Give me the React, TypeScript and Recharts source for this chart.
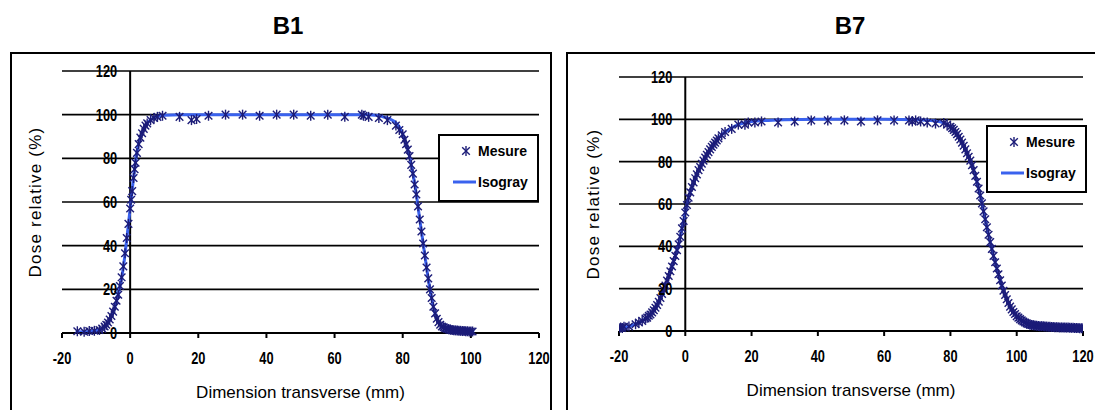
import { ComposedChart, Line, Scatter, XAxis, YAxis, CartesianGrid, ReferenceLine } from 'recharts'

type Pt = { x: number; y: number }

const xTicks = [-20, 0, 20, 40, 60, 80, 100, 120]
const yTicks = [0, 20, 40, 60, 80, 100, 120]
const seriesNames = ['Mesure', 'Isogray']
const xTitle = 'Dimension transverse (mm)'
const yTitle = 'Dose relative (%)'

// B1 - calculated profile (x mm, dose %)
const b1Isogray = [
  [-16, 0.5], [-12, 0.7], [-10, 1], [-9, 1.5], [-8, 2.3], [-7, 3.6], [-6, 6], [-5, 9.5], [-4, 14.5],
  [-3, 21], [-2, 30], [-1, 43], [0, 57], [1, 71], [2, 83], [3, 89.5], [4, 93.5], [5, 96], [6, 97.6],
  [7, 98.6], [8, 99.2], [10, 99.7], [15, 100], [30, 100], [50, 100], [70, 100], [72, 99.7], [74, 99.1],
  [76, 98.2], [78, 96.3], [79, 94.5], [80, 91], [81, 86.5], [82, 81], [83, 73], [84, 63.5], [85, 52],
  [86, 41], [87, 30], [88, 20], [89, 12], [90, 6.5], [91, 3.8], [92, 2.6], [93, 2], [95, 1.3], [97, 1],
  [101, 0.7],
]

// B1 - measured points
const b1Mesure = [
  [-15.5, 0.8], [-13.5, 0.6], [-12, 0.9], [-10.5, 1], [-9, 1.4], [-8.2, 2], [-7.5, 3], [-7, 3.8],
  [-6.5, 4.8], [-6, 6.2], [-5.5, 7.8], [-5, 9.8], [-4.5, 12], [-4, 14.8], [-3.5, 17.5], [-3, 21.5],
  [-2.5, 25.5], [-2, 30.5], [-1.5, 36.5], [-1, 43.5], [-0.5, 50], [0, 57], [0.3, 61], [0.6, 65],
  [1, 71], [1.3, 75], [1.6, 78], [2, 82.5], [2.5, 86.5], [3, 89.5], [3.5, 91.5], [4, 93.5], [4.5, 95],
  [5, 96], [6, 97.5], [7, 98.5], [8, 99], [9.5, 99.5], [14.5, 99], [18, 97.5], [19.5, 98], [23, 99.5],
  [28, 100], [33, 100], [38, 99.5], [43, 100], [48, 100], [53, 99.5], [58, 100], [63, 99], [68, 100],
  [68.5, 99.5], [70, 99], [73, 98.5], [75.5, 97.5], [78, 95], [79, 93], [80, 91], [80.5, 88.5],
  [81, 86.5], [81.5, 84], [82, 81], [82.5, 77], [83, 73], [83.5, 68], [84, 63.5], [84.5, 58], [85, 52],
  [85.5, 46.5], [86, 41], [86.5, 35.5], [87, 30], [87.5, 25], [88, 20], [88.5, 16], [89, 12], [89.5, 9],
  [90, 6.5], [90.5, 5], [91, 3.8], [91.5, 3], [92, 2.6], [92.5, 2.2], [93, 2], [93.5, 1.7], [94, 1.5],
  [94.5, 1.4], [95, 1.3], [95.5, 1.2], [96, 1.1], [96.5, 1], [97, 1], [97.5, 0.9], [98, 0.9],
  [98.5, 0.8], [99, 0.8], [99.5, 0.7], [100, 0.7], [100.5, 0.7],
]

// B7 - calculated profile
const b7Isogray = [
  [-20.5, 1.2], [-18, 1.8], [-16, 2.7], [-14, 3.9], [-12, 5.8], [-11, 7], [-10, 8.7], [-9, 11],
  [-8, 13.8], [-7, 17.5], [-6, 21.5], [-5, 26], [-4, 30.5], [-3, 35.5], [-2, 41], [-1, 48.5], [0, 56],
  [1, 63], [2, 68], [3, 72.2], [4, 76], [5, 79], [6, 82], [7, 84.5], [8, 87], [9, 89], [10, 91],
  [12, 94], [14, 96], [16, 97.5], [18, 98.4], [20, 99], [25, 99.5], [30, 99.8], [40, 100], [60, 100],
  [70, 99.8], [75, 99.3], [78, 98.3], [80, 96.5], [82, 93], [84, 87.5], [85, 84], [86, 80.5], [87, 76],
  [88, 70.5], [89, 64], [90, 56.5], [91, 49], [92, 42], [93, 35.5], [94, 29.5], [95, 24], [96, 19],
  [97, 15], [98, 11.5], [99, 9], [100, 7], [102, 4.5], [104, 3], [106, 2.5], [110, 2], [115, 1.6],
  [120, 1.3],
]

// B7 - measured points
const b7Mesure = [
  [-20, 1.3], [-19.5, 1.6], [-19, 1.4], [-18.5, 2], [-17, 2.1], [-15, 3.2], [-14, 4], [-13, 4.8],
  [-12, 5.9], [-11.5, 6.3], [-11, 7.2], [-10.5, 7.8], [-10, 8.8], [-9.5, 9.8], [-9, 11], [-8.5, 12.3],
  [-8, 13.8], [-7.5, 15.6], [-7, 17.5], [-6.5, 19.5], [-6, 21.5], [-5.5, 23.8], [-5, 26], [-4.5, 28.2],
  [-4, 30.5], [-3.5, 33], [-3, 35.5], [-2.5, 38.2], [-2, 41], [-1.5, 44.5], [-1, 48.5], [-0.5, 52],
  [0, 56], [0.5, 59.5], [1, 63], [1.5, 65.5], [2, 68], [2.5, 70.2], [3, 72.2], [3.5, 74], [4, 76],
  [4.5, 77.5], [5, 79], [5.5, 80.5], [6, 82], [6.5, 83.3], [7, 84.5], [7.5, 85.8], [8, 87], [8.5, 88],
  [9, 89], [9.5, 90], [10, 91], [11, 92.5], [12, 94], [14, 95.5], [16, 97.5], [18, 97.5], [19, 98.5],
  [21, 98.5], [23, 99], [28, 98.5], [33, 99], [38, 99.5], [43, 99.5], [48, 99.5], [53, 99], [58, 99.5],
  [63, 99.5], [67.5, 99.5], [68.5, 99], [69.5, 99.5], [71, 99], [73, 98.5], [75.5, 98], [78, 98.3],
  [79, 97.5], [80, 96.5], [80.5, 95.8], [81, 95], [81.5, 94], [82, 93], [82.5, 91.8], [83, 90.5],
  [83.5, 89], [84, 87.5], [84.5, 85.8], [85, 84], [85.5, 82.3], [86, 80.5], [86.5, 78.3], [87, 76],
  [87.5, 73.3], [88, 70.5], [88.5, 67.3], [89, 64], [89.5, 60.3], [90, 56.5], [90.5, 52.8], [91, 49],
  [91.5, 45.5], [92, 42], [92.5, 38.8], [93, 35.5], [93.5, 32.5], [94, 29.5], [94.5, 26.8], [95, 24],
  [95.5, 21.5], [96, 19], [96.5, 17], [97, 15], [97.5, 13.2], [98, 11.5], [98.5, 10.2], [99, 9],
  [99.5, 8], [100, 7], [100.5, 6.3], [101, 5.6], [101.5, 5], [102, 4.5], [102.5, 4], [103, 3.6],
  [103.5, 3.3], [104, 3], [104.5, 2.8], [105, 2.7], [105.5, 2.6], [106, 2.5], [106.5, 2.4], [107, 2.3],
  [107.5, 2.3], [108, 2.2], [108.5, 2.1], [109, 2.1], [109.5, 2], [110, 2], [110.5, 1.9], [111, 1.9],
  [111.5, 1.8], [112, 1.8], [112.5, 1.8], [113, 1.7], [113.5, 1.7], [114, 1.7], [114.5, 1.6], [115, 1.6],
  [115.5, 1.6], [116, 1.5], [116.5, 1.5], [117, 1.5], [117.5, 1.4], [118, 1.4], [118.5, 1.4], [119, 1.3],
  [119.5, 1.3], [120, 1.3],
]

const toPts = (a: number[][]): Pt[] => a.map(([x, y]) => ({ x, y }))

const NAVY = '#1c1c78'
const BLUE = '#3a62ee'
const FONT = "'Liberation Sans', Arial, sans-serif"
const YAXIS_W = 20

const Star = (p: any) => {
  const { cx, cy } = p
  if (cx == null || cy == null) return null
  return (
    <g stroke={NAVY} strokeWidth={1.4}>
      <line x1={cx - 3.8} y1={cy - 3.8} x2={cx + 3.8} y2={cy + 3.8} />
      <line x1={cx - 3.8} y1={cy + 3.8} x2={cx + 3.8} y2={cy - 3.8} />
      <line x1={cx} y1={cy - 5} x2={cx} y2={cy + 5} />
    </g>
  )
}

// tick labels in the original are a squeezed bold face
const NarrowText = ({ x, y, anchor, dy, children }: any) => (
  <text transform={`translate(${x},${y}) scale(0.8,1)`} dy={dy} textAnchor={anchor} fill="#000"
    fontSize={16} fontWeight="bold" fontFamily={FONT}>
    {children}
  </text>
)

const XTick = (p: any) => (
  <NarrowText x={p.x} y={p.y} anchor="middle" dy="0.71em">{p.payload.value}</NarrowText>
)

type Geo = {
  left: number; w: number; ml: number; mr: number; mt: number; mb: number
  box: number; boxW: number; titleX: number; legX: number; legY: number; yTitleX: number
}

function Panel({ title, line, mes, g }: { title: string; line: number[][]; mes: number[][]; g: Geo }) {
  const plotW = g.w - g.ml - g.mr
  const zeroX = g.ml + (plotW * 20) / 140 // where the value axis crosses (x = 0)

  const YTick = (p: any) => (
    <NarrowText x={zeroX - 13} y={p.y} anchor="end" dy={6}>{p.payload.value}</NarrowText>
  )

  return (
    <div style={{ position: 'absolute', left: g.left, top: 0, width: g.w, height: 410 }}>
      <div style={{ position: 'absolute', left: g.titleX - 50, top: 12, width: 100, textAlign: 'center',
        fontSize: 24, fontWeight: 'bold', lineHeight: '28px' }}>{title}</div>
      <div style={{ position: 'absolute', left: g.box, top: 52, width: g.boxW, height: 400,
        border: '2px solid #000', boxSizing: 'border-box' }} />
      <div style={{ position: 'absolute', left: 0, top: 0 }}>
        <ComposedChart width={g.w} height={410}
          margin={{ top: g.mt, right: g.mr, bottom: g.mb, left: g.ml - YAXIS_W }}>
          <CartesianGrid horizontal vertical={false} stroke="#000" strokeWidth={1.6} strokeOpacity={1} />
          <XAxis type="number" dataKey="x" domain={[-20, 120]} ticks={xTicks} allowDataOverflow
            height={30} tickSize={5} tickMargin={15}
            axisLine={{ stroke: '#000', strokeWidth: 2 }} tickLine={{ stroke: '#000', strokeWidth: 2 }}
            tick={XTick}
            label={{
              content: (lp: any) => (
                <text x={lp.viewBox.x + lp.viewBox.width / 2} y={lp.viewBox.y + 65}
                  textAnchor="middle" fontSize={17} fontFamily={FONT} fill="#000">{xTitle}</text>
              ),
            }} />
          <YAxis type="number" domain={[0, 120]} ticks={yTicks} width={YAXIS_W} axisLine={false}
            tickLine={false} tick={YTick}
            label={{
              content: (lp: any) => {
                const x = lp.viewBox.x + lp.viewBox.width - (g.ml - g.yTitleX)
                const y = lp.viewBox.y + lp.viewBox.height / 2
                return (
                  <text x={x} y={y} transform={`rotate(-90 ${x} ${y})`} textAnchor="middle" dy={6}
                    fontSize={17} letterSpacing={1.2} fontFamily={FONT} fill="#000">{yTitle}</text>
                )
              },
            }} />
          <ReferenceLine x={0} stroke="#000" strokeWidth={2} />
          <Line data={toPts(line)} dataKey="y" name={seriesNames[1]} type="monotone" stroke={BLUE}
            strokeWidth={3} dot={false} isAnimationActive={false} />
          <Scatter data={toPts(mes)} dataKey="y" name={seriesNames[0]} shape={Star}
            isAnimationActive={false} />
        </ComposedChart>
      </div>
      <div style={{ position: 'absolute', left: g.legX, top: g.legY, width: 101, height: 68,
        border: '2px solid #000', boxSizing: 'border-box', background: '#fff', fontSize: 14,
        fontWeight: 'bold' }}>
        <svg width={40} height={64} style={{ position: 'absolute', left: 0, top: 0 }}>
          <Star cx={26} cy={15} />
          <line x1={13} y1={46} x2={36} y2={46} stroke={BLUE} strokeWidth={3} />
        </svg>
        <div style={{ position: 'absolute', left: 38, top: 6, lineHeight: '18px' }}>{seriesNames[0]}</div>
        <div style={{ position: 'absolute', left: 38, top: 37, lineHeight: '18px' }}>{seriesNames[1]}</div>
      </div>
    </div>
  )
}

const geoB1: Geo = { left: 0, w: 552, ml: 62, mr: 13, mt: 71, mb: 47, box: 10, boxW: 542,
  titleX: 288, legX: 438, legY: 134, yTitleX: 35 }
const geoB7: Geo = { left: 566, w: 529, ml: 53, mr: 12, mt: 77, mb: 49, box: 0, boxW: 600,
  titleX: 284, legX: 420, legY: 125, yTitleX: 27 }

export default function App() {
  return (
    <div style={{ position: 'absolute', left: 0, top: 0, width: 1095, height: 410, overflow: 'hidden',
      background: '#fff', fontFamily: FONT, color: '#000' }}>
      <Panel title="B1" line={b1Isogray} mes={b1Mesure} g={geoB1} />
      <Panel title="B7" line={b7Isogray} mes={b7Mesure} g={geoB7} />
    </div>
  )
}
